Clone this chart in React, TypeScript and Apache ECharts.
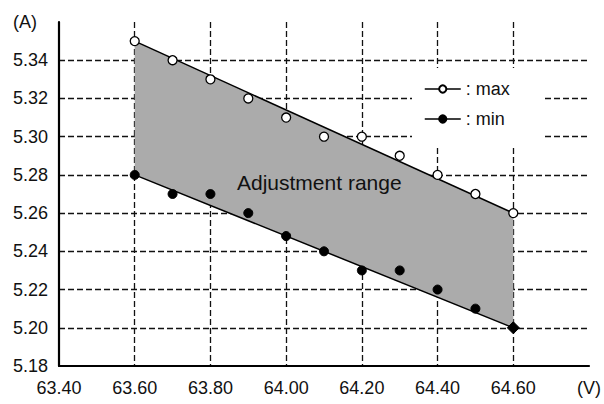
import React, { useEffect, useRef } from "react";
import * as echarts from "echarts";

const maxX = [63.6, 63.7, 63.8, 63.9, 64.0, 64.1, 64.2, 64.3, 64.4, 64.5, 64.6];
const maxY = [5.35, 5.34, 5.33, 5.32, 5.31, 5.30, 5.30, 5.29, 5.28, 5.27, 5.26];
const minX = [63.6, 63.7, 63.8, 63.9, 64.0, 64.1, 64.2, 64.3, 64.4, 64.5, 64.6];
const minY = [5.28, 5.27, 5.27, 5.26, 5.248, 5.24, 5.23, 5.23, 5.22, 5.21, 5.20];

const bandX = [63.6, 64.6];
const bandUpper = [5.35, 5.26];
const bandLower = [5.28, 5.2];

const FONT = "'Liberation Sans', Arial, Helvetica, sans-serif";

export default function App() {
  const ref = useRef<HTMLDivElement>(null);
  useEffect(() => {
    if (!ref.current) return;
    const chart = echarts.init(ref.current, undefined, { renderer: "svg" });
    const dash = { color: "#111", width: 1.3, type: [6, 3] as any };
    chart.setOption({
      animation: false,
      backgroundColor: "#fff",
      textStyle: { fontFamily: FONT },
      grid: { left: 59, right: 14, top: 22, bottom: 38, containLabel: false },
      xAxis: {
        type: "value",
        min: 63.4,
        max: 64.8,
        interval: 0.2,
        axisLine: { show: true, onZero: false, lineStyle: { color: "#000", width: 2.2 } },
        axisTick: { show: false },
        axisLabel: {
          color: "#111",
          fontSize: 18,
          fontFamily: FONT,
          margin: 13,
          showMaxLabel: true,
          formatter: (v: number) => (Math.abs(v - 64.8) < 1e-6 ? "(V)" : v.toFixed(2)),
        },
        splitLine: { show: true, showMinLine: false, showMaxLine: false, lineStyle: dash },
      },
      yAxis: {
        type: "value",
        min: 5.18,
        max: 5.36,
        interval: 0.02,
        axisLine: { show: true, onZero: false, lineStyle: { color: "#000", width: 2.2 } },
        axisTick: { show: false },
        axisLabel: {
          color: "#111",
          fontSize: 18,
          fontFamily: FONT,
          margin: 11,
          showMaxLabel: true,
          formatter: (v: number) => (Math.abs(v - 5.36) < 1e-6 ? "{a|(A)}" : v.toFixed(2)),
          rich: { a: { fontSize: 18, fontFamily: FONT, color: "#111", padding: [0, 11, 0, 0] } },
        },
        splitLine: { show: true, showMinLine: false, showMaxLine: false, lineStyle: dash },
      },
      legend: {
        show: true,
        orient: "vertical",
        left: 412,
        top: 68,
        data: ["max", "min"],
        backgroundColor: "#fff",
        padding: [12, 34, 20, 12],
        itemGap: 12,
        itemWidth: 36,
        itemHeight: 9,
        formatter: (name: string) => ": " + name,
        textStyle: { color: "#111", fontSize: 18, fontFamily: FONT },
        lineStyle: { color: "#000", width: 1.5, opacity: 1 },
        z: 5,
      },
      graphic: [
        {
          type: "text",
          left: 237,
          top: 172,
          z: 100,
          style: { text: "Adjustment range", fill: "#111", font: `21px ${FONT}` },
        },
      ],
      series: [
        {
          type: "custom",
          name: "band",
          silent: true,
          z: 1,
          data: [[bandX[0], bandUpper[0]]],
          renderItem: (params: any, api: any) => {
            const pts = [
              api.coord([bandX[0], bandUpper[0]]),
              api.coord([bandX[1], bandUpper[1]]),
              api.coord([bandX[1], bandLower[1]]),
              api.coord([bandX[0], bandLower[0]]),
            ];
            return {
              type: "polygon",
              shape: { points: pts },
              style: { fill: "#ababab", stroke: "none" },
            };
          },
        },
        {
          type: "line",
          name: "upperEdge",
          silent: true,
          z: 3,
          symbol: "none",
          data: bandX.map((x, i) => [x, bandUpper[i]]),
          lineStyle: { color: "#000", width: 1.5 },
        },
        {
          type: "line",
          name: "lowerEdge",
          silent: true,
          z: 3,
          symbol: "none",
          data: bandX.map((x, i) => [x, bandLower[i]]),
          lineStyle: { color: "#000", width: 1.5 },
        },
        {
          type: "line",
          name: "max",
          z: 4,
          symbol: "circle",
          symbolSize: 9,
          data: maxX.map((x, i) => [x, maxY[i]]),
          lineStyle: { opacity: 0, color: "#000" },
          itemStyle: { color: "#fff", borderColor: "#000", borderWidth: 1.3 },
        },
        {
          type: "line",
          name: "min",
          z: 4,
          symbol: "circle",
          symbolSize: 9,
          data: minX.map((x, i) =>
            i === minX.length - 1
              ? { value: [x, minY[i]], symbol: "diamond", symbolSize: 12 }
              : [x, minY[i]]
          ),
          lineStyle: { opacity: 0, color: "#000" },
          itemStyle: { color: "#000", borderColor: "#000", borderWidth: 1 },
        },
      ],
    });
    return () => chart.dispose();
  }, []);
  return (
    <div
      ref={ref}
      style={{ position: "fixed", left: 0, top: 0, width: 604, height: 404, background: "#fff" }}
    />
  );
}
